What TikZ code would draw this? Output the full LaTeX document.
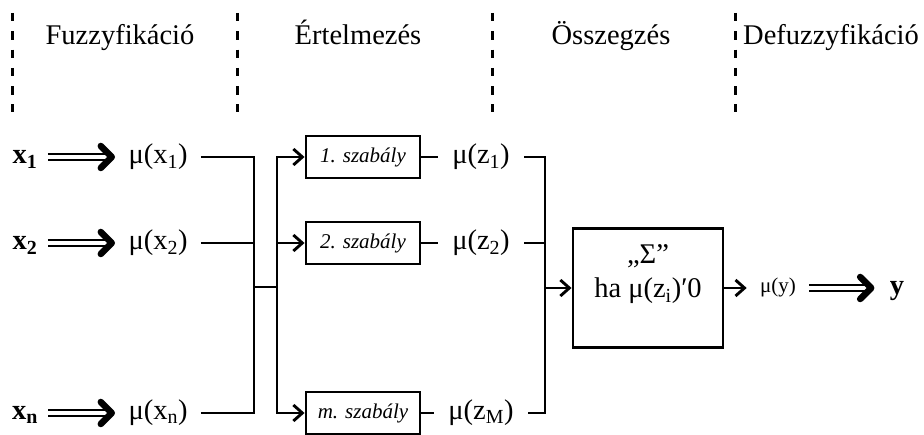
\documentclass[tikz,border=0pt]{standalone}
\usepackage{fontspec}
\setmainfont{Liberation Serif}
\usetikzlibrary{arrows.meta}
\newcommand\fsbig{\fontsize{28.5}{34}\selectfont}
\newcommand\fsmid{\fontsize{21}{25}\selectfont}
\newcommand\fssml{\fontsize{21}{24}\selectfont}
\begin{document}
\begin{tikzpicture}[x=1pt,y=-1pt, line width=2.9pt,
  txt/.style={font=\fsbig, text height=20pt, text depth=7pt, inner ysep=0pt},
  hdr/.style={font=\fsbig, anchor=base, inner sep=0pt},
  rulebox/.style={draw, font=\fsmid\itshape, minimum width=114pt, minimum height=42pt, inner sep=0pt},
  sep/.style={dash pattern=on 8.5pt off 9.8pt, line width=3pt},
  dbl/.style={preaction={draw, -, double, double distance=3.4pt, line width=2.2pt, shorten >=6pt},
              draw=white, line width=0.5pt,
              -{Straight Barb[black, length=11pt, width=22pt, line width=6.5pt, round]}},
  arr/.style={-{Straight Barb[length=9pt,width=16pt]}}
]
\useasboundingbox (0,0) rectangle (924,435);
% separators
\draw[sep] (12,13) -- (12,112);
\draw[sep] (237,13) -- (237,112);
\draw[sep] (492,13) -- (492,112);
\draw[sep] (735,13) -- (735,112);
% headers
\node[hdr] (h1) at (120,45) {Fuzzyfikáció};
\node[hdr] (h2) at (358,45) {Értelmezés};
\node[hdr] (h3) at (611,45) {Összegzés};
\node[hdr] (h4) at (831,45) {Defuzzyfikáció};
% inputs
\node[txt, inner xsep=9pt] (x1) at (25,157) {\textbf{x\textsubscript{1}}};
\node[txt, inner xsep=9pt] (x2) at (25,243) {\textbf{x\textsubscript{2}}};
\node[txt, inner xsep=9pt] (xn) at (25,413) {\textbf{x\textsubscript{n}}};
\node[txt, inner xsep=12pt] (mx1) at (158,157) {μ(x\textsubscript{1})};
\node[txt, inner xsep=12pt] (mx2) at (158,243) {μ(x\textsubscript{2})};
\node[txt, inner xsep=12pt] (mxn) at (158,413) {μ(x\textsubscript{n})};
\draw[dbl] (x1) -- (mx1);
\draw[dbl] (x2) -- (mx2);
\draw[dbl] (xn) -- (mxn);
% bus
\coordinate (ja) at (254,287);
\coordinate (jb) at (277,287);
\draw (mx1.east) -| (ja);
\draw (mx2.east) -| (ja);
\draw (mxn.east) -| (ja);
\draw (ja) -- (jb);
% rules
\node[rulebox] (r1) at (363,157) {1. szabály};
\node[rulebox] (r2) at (363,243) {2. szabály};
\node[rulebox] (rm) at (363,413) {m. szabály};
\draw[arr] (jb) |- (r1);
\draw[arr] (jb) |- (r2);
\draw[arr] (jb) |- (rm);
% rule outputs
\node[txt, inner xsep=13pt] (mz1) at (481,157) {μ(z\textsubscript{1})};
\node[txt, inner xsep=13pt] (mz2) at (481,243) {μ(z\textsubscript{2})};
\node[txt, inner xsep=13pt] (mzm) at (481,413) {μ(z\textsubscript{M})};
\draw (r1) -- (mz1);
\draw (r2) -- (mz2);
\draw (rm) -- (mzm);
\coordinate (jc) at (545,288);
\draw (mz1.east) -| (jc);
\draw (mz2.east) -| (jc);
\draw (mzm.east) -| (jc);
% sum box
\node[draw, minimum width=150pt, minimum height=119pt, inner sep=0pt] (sum) at (648,288) {};
\node[font=\fsbig, align=center, inner sep=0pt] (sumtxt) at (648,274) {„Σ”\\ha μ(z\textsubscript{i})′0};
\draw[arr] (jc) -- (sum);
% output
\node[font=\fssml, text height=15pt, text depth=5pt, inner ysep=0pt, inner xsep=12pt] (my) at (778,288) {μ(y)};
\node[txt, inner xsep=14pt] (y) at (897,288) {\textbf{y}};
\draw[arr] (sum) -- (my);
\draw[dbl] (my) -- (y);
\end{tikzpicture}
\end{document}
